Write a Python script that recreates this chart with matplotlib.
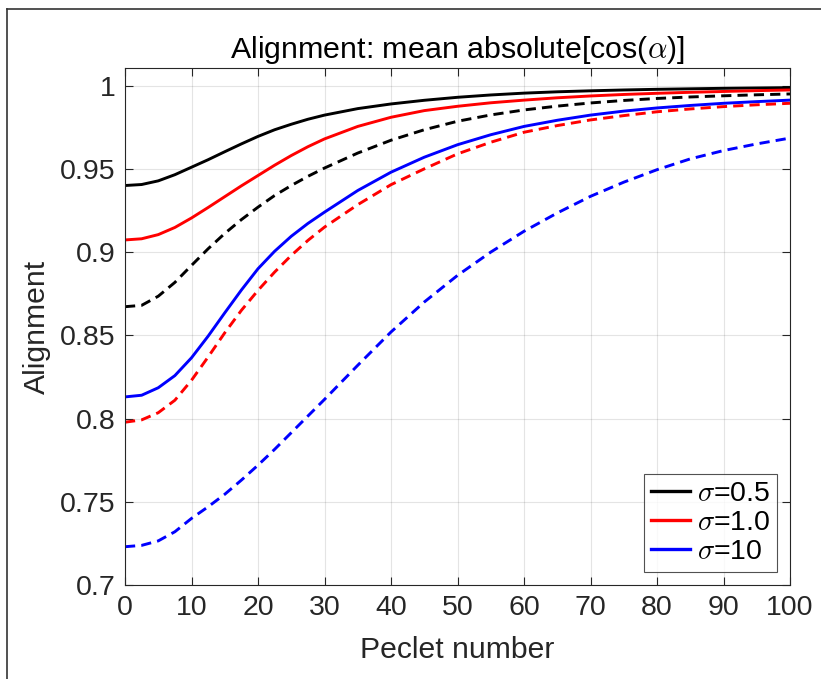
import matplotlib
matplotlib.use('Agg')
import matplotlib.pyplot as plt
import numpy as np

plt.rcParams['font.family'] = ['Liberation Sans', 'DejaVu Sans']
plt.rcParams['mathtext.fontset'] = 'cm'

# Peclet number samples (finer where the curves bend)
pe = [0, 2.5, 5, 7.5, 10, 12.5, 15, 17.5, 20, 22.5, 25, 27.5, 30,
      35, 40, 45, 50, 55, 60, 65, 70, 75, 80, 85, 90, 95, 100]

# solid curves
black_solid = [0.9400, 0.9406, 0.9428, 0.9465, 0.9510, 0.9555, 0.9603, 0.9650, 0.9695, 0.9735, 0.9768,
               0.9798, 0.9823, 0.9862, 0.9890, 0.9912, 0.9930, 0.9944, 0.9955, 0.9963, 0.9969,
               0.9974, 0.9978, 0.9981, 0.9984, 0.9986, 0.9988]
red_solid = [0.9073, 0.9080, 0.9105, 0.9148, 0.9205, 0.9268, 0.9333, 0.9398, 0.9460, 0.9522, 0.9580,
             0.9633, 0.9680, 0.9755, 0.9810, 0.9850, 0.9876, 0.9897, 0.9913, 0.9927, 0.9938,
             0.9947, 0.9954, 0.9960, 0.9965, 0.9970, 0.9974]
blue_solid = [0.8130, 0.8140, 0.8185, 0.8258, 0.8365, 0.8495, 0.8635, 0.8772, 0.8900, 0.9005, 0.9095,
              0.9172, 0.9240, 0.9370, 0.9480, 0.9570, 0.9645, 0.9705, 0.9755, 0.9792, 0.9823,
              0.9847, 0.9866, 0.9881, 0.9894, 0.9904, 0.9913]
# dashed curves
black_dash = [0.8672, 0.8680, 0.8735, 0.8818, 0.8920, 0.9020, 0.9112, 0.9195, 0.9270, 0.9340, 0.9400,
              0.9455, 0.9505, 0.9595, 0.9672, 0.9735, 0.9786, 0.9824, 0.9854, 0.9877, 0.9896,
              0.9911, 0.9923, 0.9932, 0.9939, 0.9945, 0.9950]
red_dash = [0.7978, 0.7992, 0.8035, 0.8110, 0.8230, 0.8370, 0.8515, 0.8650, 0.8770, 0.8880, 0.8980,
            0.9070, 0.9150, 0.9285, 0.9405, 0.9500, 0.9590, 0.9660, 0.9720, 0.9760, 0.9794,
            0.9820, 0.9843, 0.9860, 0.9874, 0.9885, 0.9894]
blue_dash = [0.7230, 0.7238, 0.7265, 0.7320, 0.7400, 0.7470, 0.7545, 0.7630, 0.7720, 0.7815, 0.7915,
             0.8015, 0.8115, 0.8320, 0.8520, 0.8700, 0.8860, 0.9000, 0.9125, 0.9235, 0.9335,
             0.9420, 0.9495, 0.9560, 0.9610, 0.9650, 0.9685]

labels = [r'$\sigma$=0.5', r'$\sigma$=1.0', r'$\sigma$=10']

fig = plt.figure(figsize=(8.21, 6.79), dpi=100)
ax = fig.add_axes([125 / 821, 1 - 585 / 679, 665 / 821, 517 / 679])

axc = '#262626'
lw = 2.1
dash = (3.5, 2.1)

h1, = ax.plot(pe, black_solid, color='k', lw=lw, label=labels[0])
h2, = ax.plot(pe, red_solid, color='r', lw=lw, label=labels[1])
h3, = ax.plot(pe, blue_solid, color='b', lw=lw, label=labels[2])
ax.plot(pe, black_dash, color='k', lw=lw, dashes=dash)
ax.plot(pe, red_dash, color='r', lw=lw, dashes=dash)
ax.plot(pe, blue_dash, color='b', lw=lw, dashes=dash)

ax.set_xlim(0, 100)
ax.set_ylim(0.7, 1.0106)
ax.set_xticks(np.arange(0, 101, 10))
ax.set_yticks([0.7, 0.75, 0.8, 0.85, 0.9, 0.95, 1.0])
ax.set_yticklabels(['0.7', '0.75', '0.8', '0.85', '0.9', '0.95', '1'])
ax.grid(True, color='#262626', alpha=0.12, lw=0.8)
ax.tick_params(direction='in', length=6, width=0.8, colors=axc, labelsize=20.5,
               top=True, right=True, pad=7)
for s in ax.spines.values():
    s.set_color(axc)
    s.set_linewidth(0.8)

ax.set_xlabel('Peclet number', fontsize=21.7, color=axc, labelpad=11)
ax.set_ylabel('Alignment', fontsize=21.7, color=axc, labelpad=6)
ax.set_title(r'Alignment: mean absolute[cos($\alpha$)]', fontsize=21.9, pad=7)

leg = ax.legend(handles=[h1, h2, h3], loc='lower right', fontsize=20.5, frameon=True,
                fancybox=False, edgecolor=axc, handlelength=1.35, handletextpad=0.25,
                labelspacing=0.1, borderpad=0.25, borderaxespad=0.45)
leg.get_frame().set_linewidth(0.8)
for ln in leg.get_lines():
    ln.set_linewidth(2.4)

# outer frame lines
fig.add_artist(plt.Line2D([7 / 821, 1], [1 - 9 / 679, 1 - 9 / 679], color='#333333', lw=1.2,
                          transform=fig.transFigure))
fig.add_artist(plt.Line2D([7 / 821, 7 / 821], [0, 1 - 9 / 679], color='#333333', lw=1.2,
                          transform=fig.transFigure))

fig.savefig('out.png', dpi=100)
